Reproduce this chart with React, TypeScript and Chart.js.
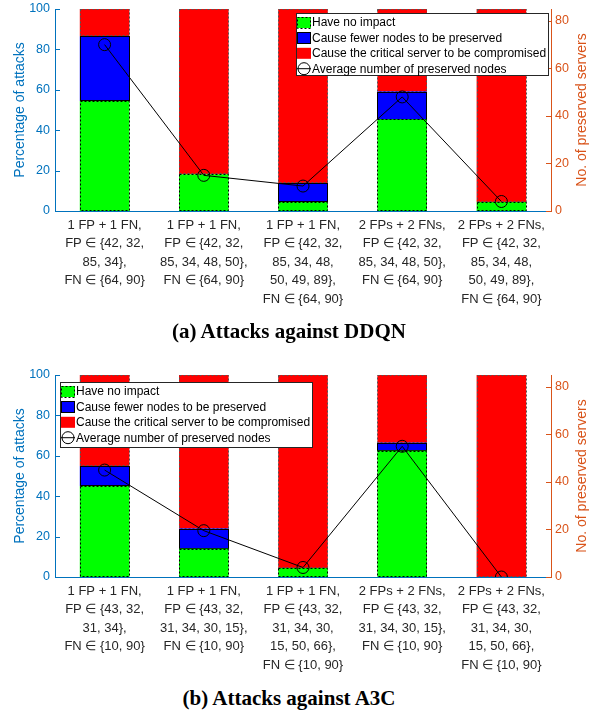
import React, { useEffect, useRef } from 'react';
import { Chart, registerables } from 'chart.js';

Chart.register(...registerables);

// ---------- data ----------
const seriesNames = [
  'Have no impact',
  'Cause fewer nodes to be preserved',
  'Cause the critical server to be compromised',
  'Average number of preserved nodes',
];

const labelsA = [
  ['1 FP + 1 FN,', 'FP \u2208 {42, 32,', '85, 34},', 'FN \u2208 {64, 90}'],
  ['1 FP + 1 FN,', 'FP \u2208 {42, 32,', '85, 34, 48, 50},', 'FN \u2208 {64, 90}'],
  ['1 FP + 1 FN,', 'FP \u2208 {42, 32,', '85, 34, 48,', '50, 49, 89},', 'FN \u2208 {64, 90}'],
  ['2 FPs + 2 FNs,', 'FP \u2208 {42, 32,', '85, 34, 48, 50},', 'FN \u2208 {64, 90}'],
  ['2 FPs + 2 FNs,', 'FP \u2208 {42, 32,', '85, 34, 48,', '50, 49, 89},', 'FN \u2208 {64, 90}'],
];
const noImpactA = [54.5, 18.2, 4.5, 45.4, 4.5];
const fewerA = [32.0, 0, 9.2, 13.7, 0];
const compromisedA = [13.5, 81.8, 86.3, 40.9, 95.5];
const avgNodesA = [70, 15, 10.5, 48, 4];

const labelsB = [
  ['1 FP + 1 FN,', 'FP \u2208 {43, 32,', '31, 34},', 'FN \u2208 {10, 90}'],
  ['1 FP + 1 FN,', 'FP \u2208 {43, 32,', '31, 34, 30, 15},', 'FN \u2208 {10, 90}'],
  ['1 FP + 1 FN,', 'FP \u2208 {43, 32,', '31, 34, 30,', '15, 50, 66},', 'FN \u2208 {10, 90}'],
  ['2 FPs + 2 FNs,', 'FP \u2208 {43, 32,', '31, 34, 30, 15},', 'FN \u2208 {10, 90}'],
  ['2 FPs + 2 FNs,', 'FP \u2208 {43, 32,', '31, 34, 30,', '15, 50, 66},', 'FN \u2208 {10, 90}'],
];
const noImpactB = [45, 14, 4.5, 62.5, 0];
const fewerB = [10, 10, 0, 4, 0];
const compromisedB = [45, 76, 95.5, 33.5, 100];
const avgNodesB = [45, 19.5, 4, 55, 0];

const leftTitle = 'Percentage of attacks';
const rightTitle = 'No. of preserved servers';
const leftMax = 100;
const rightMax = 85;
const tickStep = 20;

const captionA = '(a) Attacks against DDQN';
const captionB = '(b) Attacks against A3C';

// ---------- styles ----------
const BLUE_AXIS = '#0072BD';
const ORANGE_AXIS = '#D95319';
const TEXT = '#262626';
const FONT = "'Liberation Sans', Arial, sans-serif";

const barStyles = [
  { fill: '#00FF00', stroke: '#000000', dash: [2, 2] },
  { fill: '#0000FF', stroke: '#000000', dash: [] as number[] },
  { fill: '#FF0000', stroke: '#555555', dash: [2, 2] },
];

const W = 604;
const H = 320;

const decorPlugin = {
  id: 'decor',
  afterDatasetDraw(chart: any, args: any) {
    const meta = args.meta;
    if (meta.type !== 'bar') return;
    const st = barStyles[args.index - 1];
    if (!st) return;
    const ctx = chart.ctx;
    ctx.save();
    ctx.strokeStyle = st.stroke;
    ctx.lineWidth = 1;
    ctx.setLineDash(st.dash);
    meta.data.forEach((el: any) => {
      const { x, y, base, width } = el.getProps(['x', 'y', 'base', 'width'], true);
      const top = Math.min(y, base);
      const h = Math.abs(base - y);
      if (h < 0.5) return;
      ctx.strokeRect(Math.round(x - width / 2) + 0.5, Math.round(top) + 0.5, Math.round(width) - 1, Math.round(h) - 1);
    });
    ctx.restore();
  },
  afterDraw(chart: any, _args: any, opts: any) {
    const ctx = chart.ctx;
    const area = chart.chartArea;
    const ys = chart.scales.y;
    const y1 = chart.scales.y1;
    ctx.save();
    ctx.setLineDash([]);
    ctx.lineWidth = 1;
    // inner ticks
    ctx.strokeStyle = BLUE_AXIS;
    ys.ticks.forEach((t: any) => {
      const p = Math.round(ys.getPixelForValue(t.value)) + 0.5;
      ctx.beginPath();
      ctx.moveTo(area.left, p);
      ctx.lineTo(area.left + 5, p);
      ctx.stroke();
    });
    ctx.strokeStyle = ORANGE_AXIS;
    y1.ticks.forEach((t: any) => {
      const p = Math.round(y1.getPixelForValue(t.value)) + 0.5;
      ctx.beginPath();
      ctx.moveTo(area.right - 5, p);
      ctx.lineTo(area.right, p);
      ctx.stroke();
    });
    // axis titles (both read bottom-to-top)
    const cy = (area.top + area.bottom) / 2;
    ctx.font = `14px ${FONT}`;
    ctx.textAlign = 'center';
    ctx.textBaseline = 'middle';
    ctx.fillStyle = BLUE_AXIS;
    ctx.save();
    ctx.translate(opts.leftTitleX, cy);
    ctx.rotate(-Math.PI / 2);
    ctx.fillText(leftTitle, 0, 0);
    ctx.restore();
    ctx.fillStyle = ORANGE_AXIS;
    ctx.save();
    ctx.translate(opts.rightTitleX, cy);
    ctx.rotate(-Math.PI / 2);
    ctx.fillText(rightTitle, 0, 0);
    ctx.restore();

    // legend
    const b = opts.box;
    ctx.fillStyle = '#FFFFFF';
    ctx.fillRect(b.x, b.y, b.w, b.h);
    ctx.strokeStyle = '#262626';
    ctx.strokeRect(b.x + 0.5, b.y + 0.5, b.w, b.h);
    ctx.font = `12px ${FONT}`;
    ctx.textAlign = 'left';
    ctx.textBaseline = 'middle';
    const sx = b.x + 1;
    const sw = 14;
    const sh = 11;
    for (let i = 0; i < 4; i++) {
      const ry = b.y + opts.firstRow + i * opts.rowStep;
      if (i < 3) {
        const st = barStyles[i];
        ctx.fillStyle = st.fill;
        ctx.fillRect(sx, ry - sh / 2, sw, sh);
        if (i !== 2) {
          ctx.strokeStyle = st.stroke;
          ctx.setLineDash(st.dash);
          ctx.strokeRect(sx + 0.5, Math.round(ry - sh / 2) + 0.5, sw - 1, sh);
          ctx.setLineDash([]);
        }
      } else {
        ctx.strokeStyle = '#000000';
        ctx.beginPath();
        ctx.moveTo(sx, ry);
        ctx.lineTo(sx + sw, ry);
        ctx.stroke();
        ctx.beginPath();
        ctx.arc(sx + sw / 2, ry, 6, 0, Math.PI * 2);
        ctx.stroke();
      }
      ctx.fillStyle = '#000000';
      ctx.fillText(seriesNames[i], sx + sw + 1, ry + 0.5);
    }
    ctx.restore();
  },
};

function buildConfig(labels: string[][], noImpact: number[], fewer: number[], compromised: number[], avg: number[], box: any): any {
  return {
    type: 'bar',
    data: {
      labels,
      datasets: [
        {
          type: 'line',
          label: seriesNames[3],
          data: avg,
          yAxisID: 'y1',
          order: 0,
          borderColor: '#000000',
          borderWidth: 1,
          pointRadius: 6,
          pointBorderWidth: 1,
          pointBackgroundColor: 'rgba(0,0,0,0)',
          pointBorderColor: '#000000',
          tension: 0,
          fill: false,
        },
        { label: seriesNames[0], data: noImpact, backgroundColor: barStyles[0].fill, borderWidth: 0, yAxisID: 'y', order: 1, stack: 's' },
        { label: seriesNames[1], data: fewer, backgroundColor: barStyles[1].fill, borderWidth: 0, yAxisID: 'y', order: 1, stack: 's' },
        { label: seriesNames[2], data: compromised, backgroundColor: barStyles[2].fill, borderWidth: 0, yAxisID: 'y', order: 1, stack: 's' },
      ],
    },
    options: {
      responsive: false,
      animation: false,
      devicePixelRatio: 1,
      layout: { padding: { top: 9, left: 0, right: 0, bottom: 0 } },
      datasets: { bar: { barPercentage: 0.5, categoryPercentage: 1.0 } },
      plugins: {
        legend: { display: false },
        tooltip: { enabled: false },
        decor: { box, leftTitleX: 20, rightTitleX: 582, firstRow: 9.5, rowStep: 15.4 },
      },
      scales: {
        x: {
          stacked: true,
          offset: true,
          grid: { display: false, drawTicks: false },
          border: { display: true, color: BLUE_AXIS, width: 1 },
          ticks: {
            color: TEXT,
            font: { family: FONT, size: 13, lineHeight: 1.42 },
            maxRotation: 0,
            minRotation: 0,
            autoSkip: false,
            padding: 5,
          },
          afterFit: (s: any) => { s.height = H - 211; s.paddingLeft = 0; s.paddingRight = 0; },
        },
        y: {
          stacked: true,
          position: 'left',
          min: 0,
          max: leftMax,
          grid: { display: false, drawTicks: false },
          border: { display: true, color: BLUE_AXIS, width: 1 },
          ticks: { stepSize: tickStep, color: BLUE_AXIS, font: { family: FONT, size: 12.5 }, padding: 5 },
          afterFit: (s: any) => { s.width = 55; s.paddingTop = 0; s.paddingBottom = 0; },
        },
        y1: {
          position: 'right',
          min: 0,
          max: rightMax,
          grid: { display: false, drawTicks: false },
          border: { display: true, color: ORANGE_AXIS, width: 1 },
          ticks: { stepSize: tickStep, includeBounds: false, color: ORANGE_AXIS, font: { family: FONT, size: 12.5 }, padding: 4 },
          afterFit: (s: any) => { s.width = W - 551; s.paddingTop = 0; s.paddingBottom = 0; },
        },
      },
    },
    plugins: [decorPlugin],
  };
}

function ChartPanel(props: { top: number; config: any }) {
  const ref = useRef<HTMLCanvasElement | null>(null);
  useEffect(() => {
    if (!ref.current) return;
    const chart = new Chart(ref.current, props.config);
    return () => chart.destroy();
  }, []);
  return (
    <canvas
      ref={ref}
      width={W}
      height={H}
      style={{ position: 'absolute', left: 0, top: props.top, width: W, height: H }}
    />
  );
}

const captionStyle: React.CSSProperties = {
  position: 'absolute',
  left: 0,
  width: 578,
  textAlign: 'center',
  fontFamily: "'Liberation Serif', 'DejaVu Serif', serif",
  fontWeight: 'bold',
  fontSize: 21,
  lineHeight: '21px',
  color: '#000',
  whiteSpace: 'nowrap',
};

export default function App() {
  const cfgA = buildConfig(labelsA, noImpactA, fewerA, compromisedA, avgNodesA, { x: 296, y: 13, w: 252, h: 62 });
  const cfgB = buildConfig(labelsB, noImpactB, fewerB, compromisedB, avgNodesB, { x: 60, y: 16, w: 252, h: 65 });
  return (
    <div style={{ position: 'absolute', left: 0, top: 0, width: W, height: 717, background: '#fff', overflow: 'hidden' }}>
      <ChartPanel top={0} config={cfgA} />
      <ChartPanel top={366} config={cfgB} />
      <div style={{ ...captionStyle, top: 321 }}>{captionA}</div>
      <div style={{ ...captionStyle, top: 688 }}>{captionB}</div>
    </div>
  );
}
